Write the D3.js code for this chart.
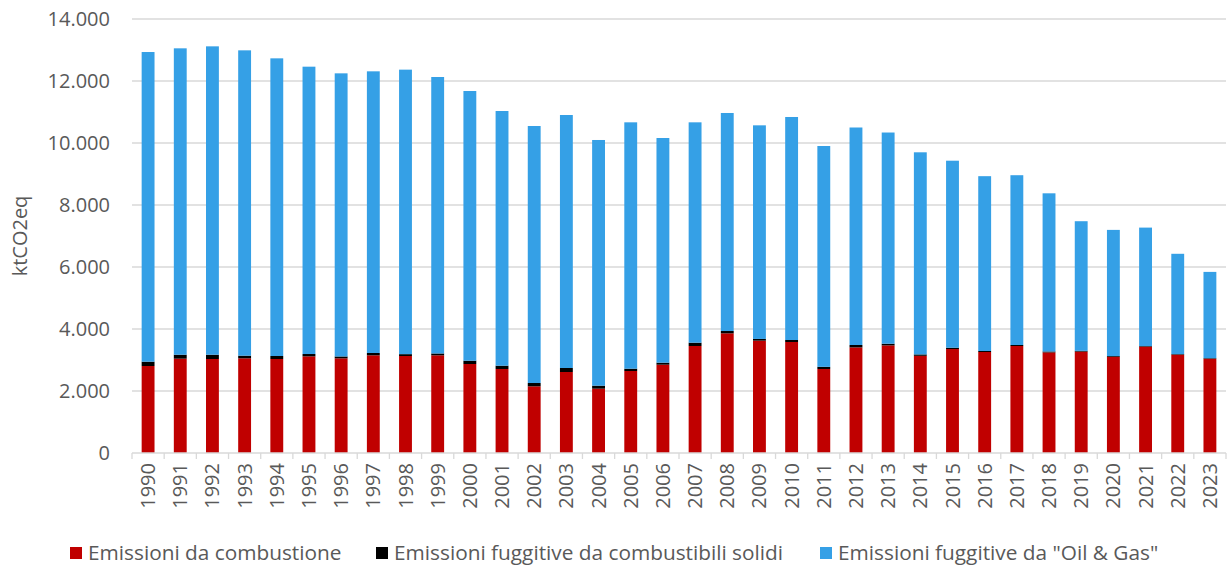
<!DOCTYPE html>
<html>
<head>
<meta charset="utf-8">
<script src="https://cdn.jsdelivr.net/npm/d3@7"></script>
<style>
  body { margin: 0; background: #fff; }
  svg text { font-family: "Open Sans", sans-serif; fill: #595959; }
</style>
</head>
<body>
<svg id="chart" width="1229" height="569"></svg>
<script>
// chart data (ktCO2eq)
let years = d3.range(1990, 2024).map(String);
let combustione = [2806, 3043, 3032, 3054, 3032, 3118, 3054, 3151, 3129, 3151,
  2871, 2710, 2151, 2613, 2075, 2645, 2849, 3452, 3860, 3624,
  3581, 2710, 3406, 3471, 3135, 3354, 3258, 3452, 3245, 3270,
  3103, 3430, 3170, 3039];
let solidi = [140, 128, 139, 86, 97, 75, 60, 75, 60, 60,
  107, 107, 107, 129, 97, 75, 65, 107, 75, 55,
  64, 70, 78, 55, 45, 43, 32, 32, 30, 25,
  25, 20, 20, 20];
let oilGas = [9989, 9883, 9947, 9849, 9602, 9269, 9133, 9086, 9177, 8918,
  8699, 8215, 8290, 8161, 7925, 7947, 7247, 7108, 7033, 6891,
  7194, 7123, 7016, 6812, 6520, 6032, 5640, 5477, 5102, 4182,
  4069, 3821, 3236, 2783];
let seriesNames = ["Emissioni da combustione", "Emissioni fuggitive da combustibili solidi", "Emissioni fuggitive da \"Oil & Gas\""];
let seriesColors = ["#C00000", "#000000", "#35A0E6"];
let yTicks = [0, 2000, 4000, 6000, 8000, 10000, 12000, 14000];

let svg = d3.select("#chart");
let xScale = d3.scaleBand().domain(years).range([132, 1226]).paddingInner(0.6).paddingOuter(0.3);
let yScale = d3.scaleLinear().domain([0, 14000]).range([453, 19]);

// table for the stack
let rows = years.map((y, i) => ({ year: y, s0: combustione[i], s1: solidi[i], s2: oilGas[i] }));
let stacked = d3.stack().keys(["s0", "s1", "s2"])(rows);

// grid lines
svg.append("g").selectAll("line")
  .data(yTicks.filter(d => d > 0))
  .join("line")
  .attr("x1", 132).attr("x2", 1226)
  .attr("y1", d => yScale(d)).attr("y2", d => yScale(d))
  .attr("stroke", "#d9d9d9").attr("stroke-width", 1.3);

// y tick labels
let fmt = d3.formatLocale({ decimal: ",", thousands: ".", grouping: [3], currency: ["", "€"] }).format(",d");
svg.append("g").selectAll("text")
  .data(yTicks)
  .join("text")
  .attr("x", 110).attr("y", d => yScale(d))
  .attr("dy", "0.35em")
  .attr("text-anchor", "end")
  .style("font-size", "20px")
  .text(d => fmt(d));

// y axis title
svg.append("text")
  .attr("transform", "translate(27," + ((19 + 453) / 2) + ") rotate(-90)")
  .attr("text-anchor", "middle")
  .style("font-size", "20px")
  .text("ktCO2eq");

// bars
svg.append("g").selectAll("g")
  .data(stacked)
  .join("g")
  .attr("fill", (d, i) => seriesColors[i])
  .selectAll("rect")
  .data(d => d)
  .join("rect")
  .attr("x", d => xScale(d.data.year))
  .attr("width", xScale.bandwidth())
  .attr("y", d => yScale(d[1]))
  .attr("height", d => yScale(d[0]) - yScale(d[1]));

// x axis line and tick marks at category boundaries
let step = xScale.step();
svg.append("line")
  .attr("x1", 132).attr("x2", 1226)
  .attr("y1", 453).attr("y2", 453)
  .attr("stroke", "#d9d9d9").attr("stroke-width", 1.3);
svg.append("g").selectAll("line")
  .data(d3.range(years.length + 1))
  .join("line")
  .attr("x1", i => 132 + i * step).attr("x2", i => 132 + i * step)
  .attr("y1", 453).attr("y2", 459)
  .attr("stroke", "#d9d9d9").attr("stroke-width", 1.3);

// x labels, rotated
svg.append("g").selectAll("text")
  .data(years)
  .join("text")
  .attr("transform", d => "translate(" + (xScale(d) + xScale.bandwidth() / 2) + ",463) rotate(-90)")
  .attr("dy", "0.35em")
  .attr("text-anchor", "end")
  .style("font-size", "20px")
  .text(d => d);

// legend
let legendX = [70, 376, 820];
let legend = svg.append("g").selectAll("g")
  .data(seriesNames)
  .join("g")
  .attr("transform", (d, i) => "translate(" + legendX[i] + ",547)");
legend.append("rect")
  .attr("width", 12).attr("height", 12)
  .attr("fill", (d, i) => seriesColors[i]);
legend.append("text")
  .attr("x", 18).attr("y", 6)
  .attr("dy", "0.35em")
  .style("font-size", "20.8px")
  .text(d => d);
</script>
</body>
</html>
